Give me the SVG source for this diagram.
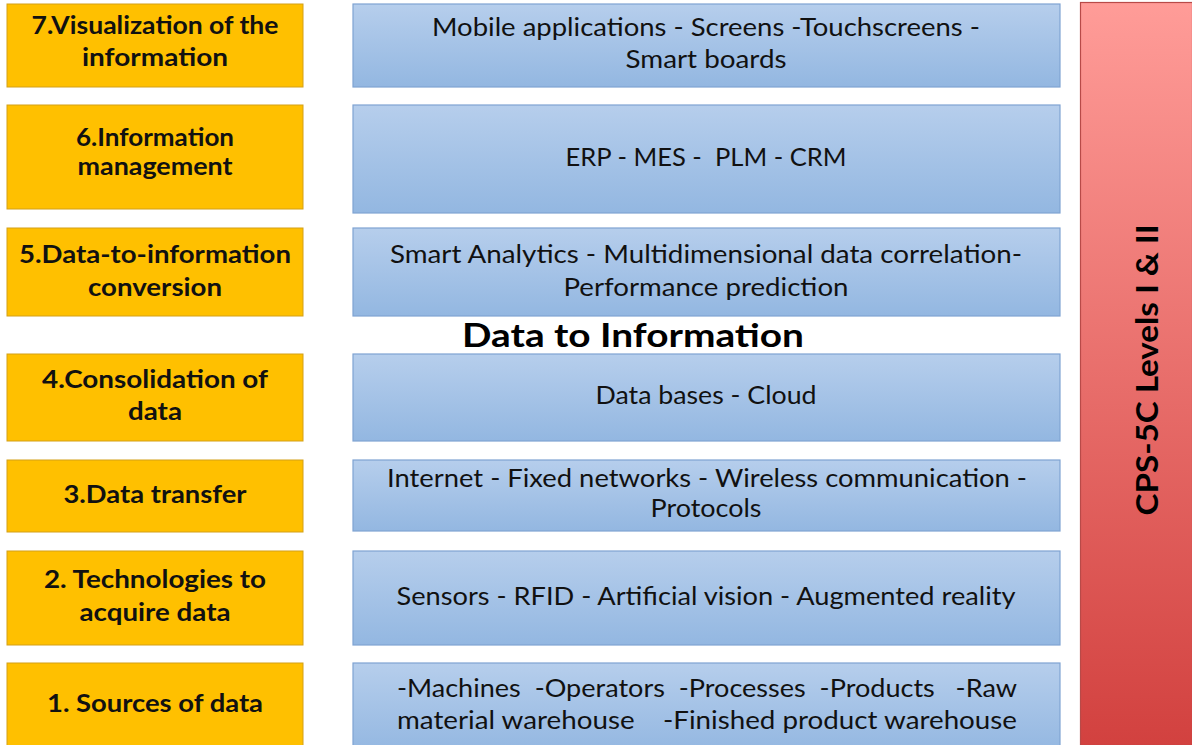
<svg xmlns="http://www.w3.org/2000/svg" width="1192" height="745" viewBox="0 0 1192 745">
<defs>
<linearGradient id="gb" x1="0" y1="0" x2="0" y2="1"><stop offset="0" stop-color="#B6CEEC"/><stop offset="1" stop-color="#93B7E1"/></linearGradient>
<linearGradient id="gr" x1="0" y1="0" x2="0" y2="1"><stop offset="0" stop-color="#FF9C98"/><stop offset="1" stop-color="#D2413F"/></linearGradient>
<style>
.y{fill:#FFC000;stroke:#D4A017;stroke-width:1}
.b{fill:url(#gb);stroke:#7FA3D2;stroke-width:1.2}
.yt{font-family:Lato,"Open Sans",sans-serif;font-weight:bold;font-size:24px;fill:#111;text-anchor:middle}
.bt{font-family:Lato,"Open Sans",sans-serif;font-size:25px;fill:#111;text-anchor:middle}
.bl{font-family:Lato,"Open Sans",sans-serif;font-size:25px;fill:#111}
.ti{font-family:Lato,"Open Sans",sans-serif;font-weight:bold;font-size:33px;fill:#000;text-anchor:middle}
</style>
</defs>
<rect width="1192" height="745" fill="#FFFFFF"/>
<g id="connectors"></g>
<g id="l7"><rect class="y" x="7" y="4" width="296" height="83"/><text class="yt" x="155" y="34" textLength="247" lengthAdjust="spacingAndGlyphs">7.Visualization of the</text><text class="yt" x="155" y="66" textLength="146" lengthAdjust="spacingAndGlyphs">information</text></g>
<g id="l6"><rect class="y" x="7" y="105" width="296" height="104"/><text class="yt" x="155" y="146" textLength="158" lengthAdjust="spacingAndGlyphs">6.Information</text><text class="yt" x="155" y="175" textLength="155" lengthAdjust="spacingAndGlyphs">management</text></g>
<g id="l5"><rect class="y" x="7" y="228" width="296" height="88"/><text class="yt" x="155" y="263" textLength="272" lengthAdjust="spacingAndGlyphs">5.Data-to-information</text><text class="yt" x="155" y="296" textLength="134" lengthAdjust="spacingAndGlyphs">conversion</text></g>
<g id="l4"><rect class="y" x="7" y="354" width="296" height="87"/><text class="yt" x="155" y="388" textLength="226" lengthAdjust="spacingAndGlyphs">4.Consolidation of</text><text class="yt" x="155" y="420" textLength="54" lengthAdjust="spacingAndGlyphs">data</text></g>
<g id="l3"><rect class="y" x="7" y="460" width="296" height="72"/><text class="yt" x="155" y="503" textLength="183" lengthAdjust="spacingAndGlyphs">3.Data transfer</text></g>
<g id="l2"><rect class="y" x="7" y="551" width="296" height="94"/><text class="yt" x="155" y="588" textLength="222" lengthAdjust="spacingAndGlyphs">2. Technologies to</text><text class="yt" x="155" y="621" textLength="151" lengthAdjust="spacingAndGlyphs">acquire data</text></g>
<g id="l1"><rect class="y" x="7" y="663" width="296" height="90"/><text class="yt" x="155" y="712" textLength="216" lengthAdjust="spacingAndGlyphs">1. Sources of data</text></g>
<g id="b7"><rect class="b" x="353" y="4" width="707" height="83"/><text class="bt" x="706" y="36" textLength="548" lengthAdjust="spacingAndGlyphs">Mobile applications - Screens -Touchscreens -</text><text class="bt" x="706" y="68" textLength="161" lengthAdjust="spacingAndGlyphs">Smart boards</text></g>
<g id="b6"><rect class="b" x="353" y="105" width="707" height="108"/><text class="bt" x="706" y="166" textLength="281" lengthAdjust="spacingAndGlyphs" xml:space="preserve">ERP - MES -  PLM - CRM</text></g>
<g id="b5"><rect class="b" x="353" y="228" width="707" height="88"/><text class="bt" x="706" y="263" textLength="632" lengthAdjust="spacingAndGlyphs">Smart Analytics - Multidimensional data correlation-</text><text class="bt" x="706" y="296" textLength="285" lengthAdjust="spacingAndGlyphs">Performance prediction</text></g>
<g id="title"><text class="ti" x="633" y="347" textLength="342" lengthAdjust="spacingAndGlyphs">Data to Information</text></g>
<g id="b4"><rect class="b" x="353" y="354" width="707" height="87"/><text class="bt" x="706" y="404" textLength="221" lengthAdjust="spacingAndGlyphs">Data bases - Cloud</text></g>
<g id="b3"><rect class="b" x="353" y="460" width="707" height="71"/><text class="bt" x="707" y="487" textLength="640" lengthAdjust="spacingAndGlyphs">Internet - Fixed networks - Wireless communication -</text><text class="bt" x="706" y="517" textLength="111" lengthAdjust="spacingAndGlyphs">Protocols</text></g>
<g id="b2"><rect class="b" x="353" y="551" width="707" height="94"/><text class="bt" x="706" y="605" textLength="619" lengthAdjust="spacingAndGlyphs">Sensors - RFID - Artificial vision - Augmented reality</text></g>
<g id="b1"><rect class="b" x="353" y="663" width="707" height="90"/><text class="bl" x="397" y="697" textLength="620" lengthAdjust="spacingAndGlyphs" xml:space="preserve">-Machines  -Operators  -Processes  -Products   -Raw</text><text class="bl" x="397" y="729" textLength="620" lengthAdjust="spacingAndGlyphs" xml:space="preserve">material warehouse    -Finished product warehouse</text></g>
<g id="cps"><rect x="1080.5" y="2.5" width="112" height="743" fill="url(#gr)" stroke="#B84A48" stroke-width="1.2"/><text transform="translate(1158 370) rotate(-90)" font-family="Lato,'Open Sans',sans-serif" font-weight="bold" font-size="30" fill="#000" text-anchor="middle" textLength="291" lengthAdjust="spacingAndGlyphs">CPS-5C Levels I &amp; II</text></g>
</svg>
